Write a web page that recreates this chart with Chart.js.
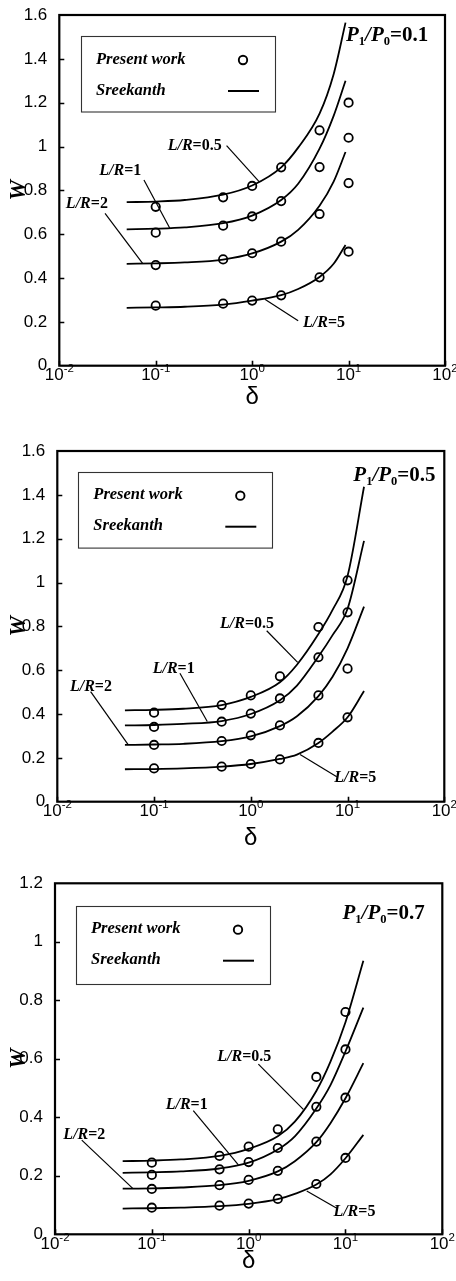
<!DOCTYPE html>
<html>
<head>
<meta charset="utf-8">
<title>W versus δ</title>
<script src="https://cdn.jsdelivr.net/npm/chart.js@4.4.1/dist/chart.umd.min.js"></script>
<style>
  html, body { margin: 0; padding: 0; background: #fff; }
  #page { position: relative; width: 456px; height: 1281px; overflow: hidden; background: #fff; }
  .panel { position: absolute; left: 0; width: 456px; }
</style>
</head>
<body>
<div id="page">
  <div class="panel" style="top:0px;height:420px"><canvas id="c1"></canvas></div>
  <div class="panel" style="top:430px;height:425px"><canvas id="c2"></canvas></div>
  <div class="panel" style="top:855px;height:426px"><canvas id="c3"></canvas></div>
</div>
<script>
// ---- data ----------------------------------------------------------------
const lrValues = ['0.5', '1', '2', '5'];
const pressureRatios = ['0.1', '0.5', '0.7'];
const xDecadeExponents = [-2, -1, 0, 1, 2];
const yTicksTall = [0, 0.2, 0.4, 0.6, 0.8, 1, 1.2, 1.4, 1.6];
const yTicksShort = [0, 0.2, 0.4, 0.6, 0.8, 1, 1.2];

// δ of the "Present work" points
const workDelta = [0.1, 0.5, 1, 2, 5, 10];

// P1/P0 = 0.1
const work01_LR05 = [0.725, 0.768, 0.820, 0.905, 1.074, 1.200];
const work01_LR1  = [0.607, 0.639, 0.681, 0.751, 0.906, 1.040];
const work01_LR2  = [0.459, 0.485, 0.513, 0.566, 0.692, 0.833];
const work01_LR5  = [0.274, 0.283, 0.297, 0.321, 0.403, 0.520];
const sreeDelta01 = [0.05, 0.1, 0.2, 0.5, 1, 2, 3, 5, 7, 9.3];
const sree01_LR05 = [0.746, 0.749, 0.756, 0.780, 0.822, 0.905, 0.995, 1.150, 1.330, 1.565];
const sree01_LR1  = [0.622, 0.625, 0.631, 0.650, 0.685, 0.756, 0.830, 0.990, 1.140, 1.300];
const sree01_LR2  = [0.465, 0.467, 0.471, 0.484, 0.512, 0.566, 0.620, 0.730, 0.840, 0.975];
const sree01_LR5  = [0.264, 0.266, 0.269, 0.279, 0.297, 0.322, 0.350, 0.405, 0.465, 0.551];

// P1/P0 = 0.5
const work05_LR05 = [0.406, 0.441, 0.485, 0.572, 0.797, 1.010];
const work05_LR1  = [0.341, 0.365, 0.402, 0.471, 0.659, 0.864];
const work05_LR2  = [0.259, 0.277, 0.303, 0.348, 0.485, 0.607];
const work05_LR5  = [0.152, 0.160, 0.172, 0.193, 0.268, 0.385];
const sreeDelta05 = [0.05, 0.1, 0.2, 0.5, 1, 2, 3, 5, 7, 10, 14.8];
const sree05_LR05 = [0.417, 0.419, 0.424, 0.441, 0.478, 0.545, 0.625, 0.765, 0.875, 1.030, 1.437];
const sree05_LR1  = [0.348, 0.350, 0.355, 0.368, 0.400, 0.463, 0.530, 0.662, 0.760, 0.880, 1.190];
const sree05_LR2  = [0.259, 0.261, 0.264, 0.276, 0.298, 0.345, 0.390, 0.482, 0.570, 0.700, 0.890];
const sree05_LR5  = [0.148, 0.149, 0.152, 0.160, 0.172, 0.195, 0.215, 0.268, 0.320, 0.385, 0.505];

// P1/P0 = 0.7
const work07_LR05 = [0.245, 0.268, 0.300, 0.359, 0.538, 0.760];
const work07_LR1  = [0.203, 0.222, 0.247, 0.295, 0.436, 0.632];
const work07_LR2  = [0.155, 0.168, 0.186, 0.217, 0.317, 0.467];
const work07_LR5  = [0.091, 0.098, 0.105, 0.121, 0.172, 0.261];
const sreeDelta07 = [0.05, 0.1, 0.2, 0.5, 1, 2, 3, 5, 7, 10, 15.3];
const sree07_LR05 = [0.250, 0.252, 0.256, 0.268, 0.292, 0.335, 0.385, 0.490, 0.590, 0.725, 0.935];
const sree07_LR1  = [0.210, 0.212, 0.215, 0.225, 0.245, 0.290, 0.335, 0.430, 0.510, 0.625, 0.775];
const sree07_LR2  = [0.156, 0.157, 0.160, 0.168, 0.183, 0.215, 0.250, 0.315, 0.380, 0.465, 0.585];
const sree07_LR5  = [0.088, 0.089, 0.091, 0.096, 0.104, 0.120, 0.138, 0.170, 0.205, 0.260, 0.340];

// ---- styling -------------------------------------------------------------
const SERIF = '"Liberation Serif", "Times New Roman", serif';
const SANS = '"Liberation Sans", Arial, Helvetica, sans-serif';
const INK = '#000';

// Curve labels: text anchor (left, middle) and leader line, in (δ, W) units
const labels01 = [
  { lr: 0, at: [0.133, 1.004], from: [0.543, 1.004], to: [1.18, 0.840] },
  { lr: 1, at: [0.026, 0.890], from: [0.0755, 0.847], to: [0.140, 0.627] },
  { lr: 2, at: [0.0117, 0.738], from: [0.0298, 0.695], to: [0.0731, 0.467] },
  { lr: 3, at: [3.37, 0.196], from: [1.355, 0.303], to: [3.0, 0.205] }
];
const labels05 = [
  { lr: 0, at: [0.481, 0.811], from: [1.46, 0.780], to: [3.05, 0.636] },
  { lr: 1, at: [0.0968, 0.608], from: [0.185, 0.586], to: [0.355, 0.366] },
  { lr: 2, at: [0.0135, 0.525], from: [0.0221, 0.502], to: [0.0542, 0.259] },
  { lr: 3, at: [7.3, 0.111], from: [3.23, 0.215], to: [7.73, 0.114] }
];
const labels07 = [
  { lr: 0, at: [0.475, 0.607], from: [1.26, 0.582], to: [3.67, 0.427] },
  { lr: 1, at: [0.139, 0.444], from: [0.268, 0.423], to: [0.783, 0.237] },
  { lr: 2, at: [0.0122, 0.339], from: [0.0189, 0.322], to: [0.0635, 0.157] },
  { lr: 3, at: [7.5, 0.077], from: [3.98, 0.148], to: [8.13, 0.089] }
];

const panels = [
  {
    canvas: 'c1', ratio: 0, canvasH: 420, yMax: 1.6, yTicks: yTicksTall,
    area: { left: 59.3, top: 15, right: 445, bottom: 365.7 },
    deltaPad: 8.6, pLabel: { dx: 286.7, dy: 25.7 },
    legend: { dx: 21.7, dy: 21, w: 194, h: 75.5 },
    sreeDelta: sreeDelta01, sree: [sree01_LR05, sree01_LR1, sree01_LR2, sree01_LR5],
    work: [work01_LR05, work01_LR1, work01_LR2, work01_LR5], labels: labels01
  },
  {
    canvas: 'c2', ratio: 1, canvasH: 425, yMax: 1.6, yTicks: yTicksTall,
    area: { left: 57.3, top: 21, right: 444.3, bottom: 371.7 },
    deltaPad: 2.6, pLabel: { dx: 296, dy: 29.7 },
    legend: { dx: 21, dy: 20.7, w: 194, h: 75.6 },
    sreeDelta: sreeDelta05, sree: [sree05_LR05, sree05_LR1, sree05_LR2, sree05_LR5],
    work: [work05_LR05, work05_LR1, work05_LR2, work05_LR5], labels: labels05
  },
  {
    canvas: 'c3', ratio: 2, canvasH: 426, yMax: 1.2, yTicks: yTicksShort,
    area: { left: 55, top: 28.3, right: 442.3, bottom: 379.3 },
    deltaPad: 5.6, pLabel: { dx: 287.5, dy: 35.7 },
    legend: { dx: 21, dy: 22.4, w: 194, h: 78 },
    sreeDelta: sreeDelta07, sree: [sree07_LR05, sree07_LR1, sree07_LR2, sree07_LR5],
    work: [work07_LR05, work07_LR1, work07_LR2, work07_LR5], labels: labels07
  }
];

// draws a run of differently styled text pieces left to right
function drawRuns(ctx, x, y, runs) {
  let cx = x;
  for (const r of runs) {
    ctx.font = r.font;
    ctx.fillText(r.t, cx, y + (r.dy || 0));
    cx += ctx.measureText(r.t).width;
  }
  return cx;
}
function runsWidth(ctx, runs) {
  let w = 0;
  for (const r of runs) { ctx.font = r.font; w += ctx.measureText(r.t).width; }
  return w;
}

// frame, inward ticks, decade labels, legend box, curve labels, ratio label
const decorPlugin = {
  id: 'decor',
  afterDraw(chart, args, opts) {
    const p = opts.panel;
    const { ctx, chartArea: a } = chart;
    const xs = chart.scales.x, ys = chart.scales.y;
    ctx.save();
    ctx.strokeStyle = INK;
    ctx.fillStyle = INK;

    // inward tick marks
    ctx.lineWidth = 1.6;
    ctx.beginPath();
    p.yTicks.forEach(v => {
      if (v <= 0 || v >= p.yMax) return;
      const py = Math.round(ys.getPixelForValue(v)) + 0.5;
      ctx.moveTo(a.left, py); ctx.lineTo(a.left + 5, py);
    });
    xDecadeExponents.forEach(e => {
      const px = Math.round(xs.getPixelForValue(Math.pow(10, e))) + 0.5;
      ctx.moveTo(px, a.bottom); ctx.lineTo(px, a.bottom - 5);
    });
    ctx.stroke();

    // plot frame
    ctx.lineWidth = 2.2;
    ctx.strokeRect(a.left, a.top, a.right - a.left, a.bottom - a.top);

    // decade labels 10^n
    ctx.textBaseline = 'alphabetic';
    ctx.textAlign = 'left';
    xDecadeExponents.forEach(e => {
      const runs = [
        { t: '10', font: `17px ${SANS}` },
        { t: String(e), font: `11.5px ${SANS}`, dy: -8 }
      ];
      const w = runsWidth(ctx, runs);
      const px = xs.getPixelForValue(Math.pow(10, e));
      drawRuns(ctx, px - w / 2, a.bottom + 14.5, runs);
    });

    // legend box
    const L = p.legend;
    const bx = a.left + L.dx, by = a.top + L.dy;
    ctx.lineWidth = 1.1;
    ctx.strokeStyle = '#333';
    ctx.strokeRect(Math.round(bx) + 0.5, Math.round(by) + 0.5, L.w, L.h);
    ctx.strokeStyle = INK;
    ctx.textBaseline = 'middle';
    ctx.font = `italic bold 16.5px ${SERIF}`;
    ctx.fillText('Present work', bx + 15, by + 23.5);
    ctx.fillText('Sreekanth', bx + 15, by + 54.5);
    ctx.lineWidth = 1.9;
    ctx.beginPath();
    ctx.arc(bx + 162, by + 24, 4.2, 0, Math.PI * 2);
    ctx.stroke();
    ctx.lineWidth = 2;
    ctx.beginPath();
    ctx.moveTo(bx + 147, by + 55); ctx.lineTo(bx + 178, by + 55);
    ctx.stroke();

    // curve labels with leader lines
    ctx.lineWidth = 1.2;
    p.labels.forEach(lab => {
      ctx.beginPath();
      ctx.moveTo(xs.getPixelForValue(lab.from[0]), ys.getPixelForValue(lab.from[1]));
      ctx.lineTo(xs.getPixelForValue(lab.to[0]), ys.getPixelForValue(lab.to[1]));
      ctx.stroke();
      drawRuns(ctx, xs.getPixelForValue(lab.at[0]), ys.getPixelForValue(lab.at[1]), [
        { t: 'L/R', font: `italic bold 16px ${SERIF}` },
        { t: '=' + lrValues[lab.lr], font: `bold 16px ${SERIF}` }
      ]);
    });

    // pressure ratio label P1/P0
    ctx.textBaseline = 'alphabetic';
    drawRuns(ctx, a.left + p.pLabel.dx, a.top + p.pLabel.dy, [
      { t: 'P', font: `italic bold 21px ${SERIF}` },
      { t: '1', font: `bold 12.5px ${SERIF}`, dy: 4 },
      { t: '/P', font: `italic bold 21px ${SERIF}` },
      { t: '0', font: `bold 12.5px ${SERIF}`, dy: 4 },
      { t: '=' + pressureRatios[p.ratio], font: `bold 21px ${SERIF}` }
    ]);
    ctx.restore();
  }
};

function buildChart(p) {
  const datasets = [];
  p.sree.forEach((ys, i) => datasets.push({
    label: 'Sreekanth L/R=' + lrValues[i],
    data: p.sreeDelta.map((d, k) => ({ x: d, y: ys[k] })),
    showLine: true,
    borderColor: INK,
    borderWidth: 1.8,
    pointRadius: 0,
    pointHoverRadius: 0,
    fill: false,
    cubicInterpolationMode: 'monotone'
  }));
  p.work.forEach((ys, i) => datasets.push({
    label: 'Present work L/R=' + lrValues[i],
    data: workDelta.map((d, k) => ({ x: d, y: ys[k] })),
    showLine: false,
    pointStyle: 'circle',
    pointRadius: 4.2,
    pointBorderWidth: 1.8,
    pointBorderColor: INK,
    pointBackgroundColor: 'rgba(0,0,0,0)'
  }));

  return new Chart(document.getElementById(p.canvas), {
    type: 'scatter',
    data: { datasets },
    plugins: [decorPlugin],
    options: {
      responsive: true,
      maintainAspectRatio: false,
      animation: false,
      events: [],
      layout: {
        autoPadding: false,
        padding: { left: 0, top: p.area.top, right: 456 - p.area.right, bottom: 0 }
      },
      plugins: {
        legend: { display: false },
        tooltip: { enabled: false },
        decor: { panel: p }
      },
      scales: {
        x: {
          type: 'logarithmic',
          min: 0.01,
          max: 100,
          grid: { display: false },
          border: { display: false },
          ticks: { display: false },
          afterBuildTicks: s => { s.ticks = xDecadeExponents.map(e => ({ value: Math.pow(10, e) })); },
          afterFit: s => { s.height = p.canvasH - p.area.bottom; },
          title: {
            display: true,
            text: 'δ',
            color: INK,
            font: { family: SANS, size: 24 },
            padding: { top: 0, bottom: p.deltaPad }
          }
        },
        y: {
          type: 'linear',
          min: 0,
          max: p.yMax,
          grid: { display: false },
          border: { display: false },
          afterBuildTicks: s => { s.ticks = p.yTicks.map(v => ({ value: v })); },
          afterFit: s => { s.width = p.area.left; },
          ticks: {
            color: INK,
            padding: 4,
            font: { family: SANS, size: 17 },
            callback: v => String(Number(v.toFixed(1)))
          },
          title: {
            display: true,
            text: 'W',
            color: INK,
            font: { family: SERIF, size: 23, style: 'italic', weight: 'bold' },
            padding: { top: 5, bottom: 0 }
          }
        }
      }
    }
  });
}

panels.forEach(buildChart);
</script>
</body>
</html>
